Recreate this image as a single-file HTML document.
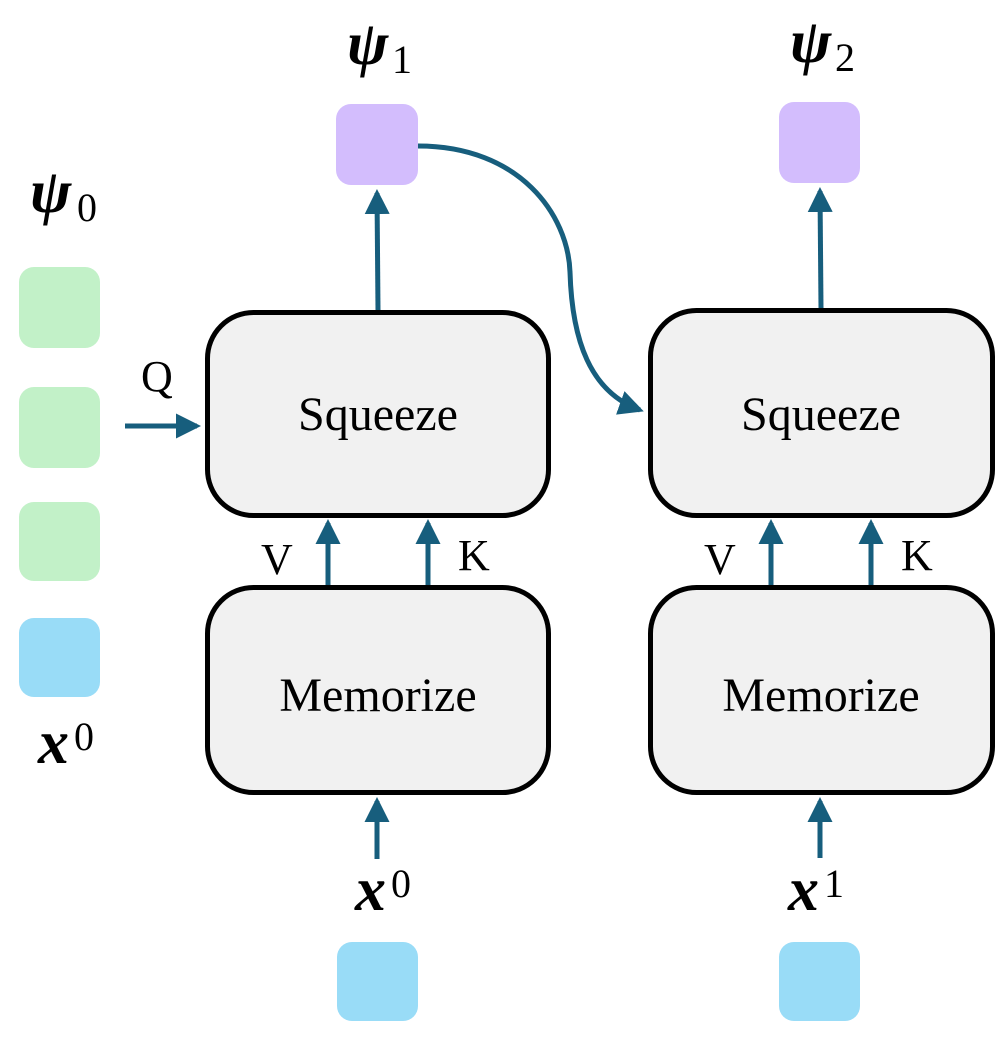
<!DOCTYPE html>
<html><head><meta charset="utf-8"><style>
html,body{margin:0;padding:0;background:#fff;}
svg{display:block;}
.t{font-family:"Liberation Serif",serif;fill:#000;}
.m{font-family:"Liberation Serif",serif;font-weight:bold;font-style:italic;fill:#000;}
.s{font-family:"Liberation Serif",serif;fill:#000;}
</style></head><body>
<svg width="997" height="1042" viewBox="0 0 997 1042" xmlns="http://www.w3.org/2000/svg">
<defs>
<marker id="ah" markerWidth="5" markerHeight="5" refX="4.2" refY="2.5" orient="auto" markerUnits="strokeWidth">
<path d="M0,0 L5,2.5 L0,5 z" fill="#175e7d"/></marker>
</defs>
<!-- left column -->
<rect x="19" y="267" width="81" height="81" rx="15" fill="#c2f1c8"/>
<rect x="19" y="387" width="81" height="81" rx="15" fill="#c2f1c8"/>
<rect x="19" y="502" width="81" height="79" rx="15" fill="#c2f1c8"/>
<rect x="19" y="618" width="81" height="79" rx="15" fill="#99dcf7"/>
<text class="m" x="30" y="212" font-size="62">ψ</text><text class="s" x="77" y="221" font-size="40">0</text>
<text class="m" x="38" y="763" font-size="62">x</text><text class="s" x="74" y="750" font-size="40">0</text>

<!-- boxes -->
<rect x="207.5" y="312.5" width="341" height="203" rx="46" fill="#f1f1f1" stroke="#000" stroke-width="5"/>
<rect x="207.5" y="587.5" width="341" height="205" rx="46" fill="#f1f1f1" stroke="#000" stroke-width="5"/>
<rect x="650.5" y="310.5" width="342" height="205" rx="46" fill="#f1f1f1" stroke="#000" stroke-width="5"/>
<rect x="650.5" y="587.5" width="342" height="205" rx="46" fill="#f1f1f1" stroke="#000" stroke-width="5"/>
<text class="t" x="378" y="430" font-size="48" text-anchor="middle">Squeeze</text>
<text class="t" x="378" y="711" font-size="48" text-anchor="middle">Memorize</text>
<text class="t" x="821" y="430" font-size="48" text-anchor="middle">Squeeze</text>
<text class="t" x="821" y="711" font-size="48" text-anchor="middle">Memorize</text>

<!-- purple -->
<rect x="336" y="104" width="82" height="81" rx="15" fill="#d3bdfd"/>
<rect x="779" y="102" width="81" height="81" rx="15" fill="#d3bdfd"/>
<text class="m" x="347" y="64" font-size="62">ψ</text><text class="s" x="392" y="73" font-size="40">1</text>
<text class="m" x="790" y="62" font-size="62">ψ</text><text class="s" x="835" y="71" font-size="40">2</text>

<!-- bottom -->
<rect x="337" y="942" width="81" height="79" rx="15" fill="#99dcf7"/>
<rect x="779" y="942" width="81" height="79" rx="15" fill="#99dcf7"/>
<text class="m" x="355" y="910" font-size="62">x</text><text class="s" x="391" y="897" font-size="40">0</text>
<text class="m" x="788" y="910" font-size="62">x</text><text class="s" x="824" y="897" font-size="40">1</text>

<!-- labels -->
<text class="t" x="141" y="391" font-size="44">Q</text>
<text class="t" x="261" y="574" font-size="44">V</text>
<text class="t" x="458" y="570" font-size="44">K</text>
<text class="t" x="704" y="574" font-size="44">V</text>
<text class="t" x="901" y="570" font-size="44">K</text>

<!-- arrows -->
<g stroke="#175e7d" stroke-width="5" fill="none" marker-end="url(#ah)">
<line x1="378" y1="310" x2="377" y2="193"/>
<line x1="821" y1="308" x2="820" y2="191"/>
<line x1="328" y1="585" x2="328" y2="523"/>
<line x1="428" y1="585" x2="428" y2="523"/>
<line x1="771" y1="585" x2="771" y2="523"/>
<line x1="871" y1="585" x2="871" y2="523"/>
<line x1="377" y1="849" x2="377" y2="801"/>
<line x1="820" y1="858" x2="820" y2="801"/>
<line x1="125" y1="426" x2="197" y2="426"/>
<path d="M418,146 C520,146 568,215 570,272 C572,340 590,392 640,410"/>
</g>
<line x1="377" y1="849" x2="377" y2="859" stroke="#175e7d" stroke-width="5"/>
</svg>
</body></html>
